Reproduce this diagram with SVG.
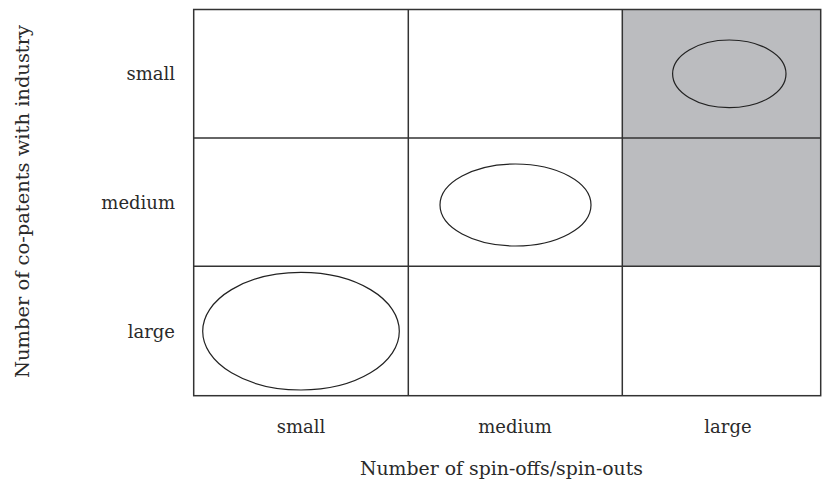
<svg xmlns="http://www.w3.org/2000/svg" width="827" height="482" viewBox="0 0 827 482">
<style>
.grid{fill:none;stroke:#333;stroke-width:1.5}
.ell{stroke:#222;stroke-width:1.2}
text{font-family:"DejaVu Serif","Liberation Serif",serif;font-size:18px;fill:#2a2a2a}
</style>
<rect x="0" y="0" width="827" height="482" fill="#fff"/>
<g id="shade">
<rect x="622.3" y="9.5" width="198.5" height="256.8" fill="#bbbcbf"/>
</g>
<g id="grid" class="grid">
<rect x="193.7" y="9.5" width="627" height="386.2"/>
<line x1="408.3" y1="9.5" x2="408.3" y2="395.7"/>
<line x1="622.3" y1="9.5" x2="622.3" y2="395.7"/>
<line x1="193.7" y1="138" x2="820.7" y2="138"/>
<line x1="193.7" y1="266.3" x2="820.7" y2="266.3"/>
</g>
<g id="e-small-large"><ellipse class="ell" cx="729.3" cy="73.8" rx="56.7" ry="33.8" fill="none"/></g>
<g id="e-medium-medium"><ellipse class="ell" cx="515.5" cy="205" rx="75.5" ry="41" fill="#fff"/></g>
<g id="e-large-small"><ellipse class="ell" cx="301" cy="331.2" rx="98.3" ry="58.8" fill="#fff"/></g>
<g id="row-labels" text-anchor="end">
<text x="175" y="80">small</text>
<text x="175" y="209">medium</text>
<text x="175" y="338">large</text>
</g>
<g id="col-labels" text-anchor="middle">
<text x="301" y="433">small</text>
<text x="515" y="433">medium</text>
<text x="728" y="433">large</text>
</g>
<text x="501.5" y="475" text-anchor="middle" textLength="283" lengthAdjust="spacingAndGlyphs">Number of spin-offs/spin-outs</text>
<text transform="translate(28.5,201.5) rotate(-90)" text-anchor="middle" textLength="353" lengthAdjust="spacingAndGlyphs" style="font-size:19px">Number of co-patents with industry</text>
</svg>
